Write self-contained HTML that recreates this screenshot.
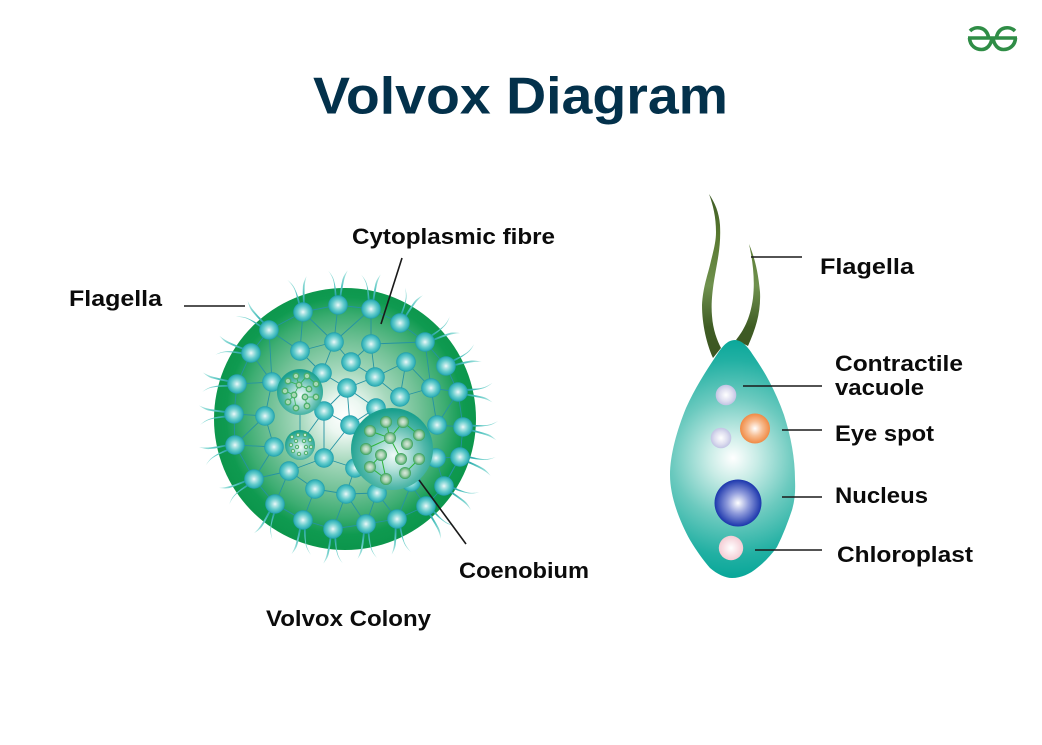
<!DOCTYPE html>
<html><head><meta charset="utf-8"><style>html,body{margin:0;padding:0;background:#fff}svg{display:block}text{font-family:"Liberation Sans",sans-serif;font-weight:700;fill:#0b0b0b}</style></head><body>
<svg width="1042" height="745" viewBox="0 0 1042 745" xmlns="http://www.w3.org/2000/svg">
<defs>
<radialGradient id="big" gradientUnits="userSpaceOnUse" cx="345" cy="416" r="132"><stop offset="0" stop-color="#fff"/><stop offset=".14" stop-color="#ecf7f1"/><stop offset=".34" stop-color="#a8d9be"/><stop offset=".56" stop-color="#74c298"/><stop offset=".76" stop-color="#3dad72"/><stop offset=".9" stop-color="#0f9a50"/><stop offset="1" stop-color="#0c964c"/></radialGradient>
<radialGradient id="nd"><stop offset="0" stop-color="#eefafa"/><stop offset=".22" stop-color="#b4e6e6"/><stop offset=".58" stop-color="#62cbcb"/><stop offset=".86" stop-color="#36b3ba"/><stop offset="1" stop-color="#1e9aa8"/></radialGradient>
<radialGradient id="co" cx=".52" cy=".58" r=".55"><stop offset="0" stop-color="#f0faf8"/><stop offset=".3" stop-color="#b8e3dc"/><stop offset=".7" stop-color="#52b8aa"/><stop offset="1" stop-color="#1aa08e"/></radialGradient>
<radialGradient id="sp"><stop offset="0" stop-color="#dcecde"/><stop offset=".5" stop-color="#a8d0b2"/><stop offset=".78" stop-color="#6cb880"/><stop offset="1" stop-color="#369f58"/></radialGradient>
<radialGradient id="cell" gradientUnits="userSpaceOnUse" cx="733" cy="458" r="122"><stop offset="0" stop-color="#fff"/><stop offset=".2" stop-color="#c8ece6"/><stop offset=".5" stop-color="#6ccabf"/><stop offset=".8" stop-color="#22b0a3"/><stop offset="1" stop-color="#06a698"/></radialGradient>
<radialGradient id="vac"><stop offset="0" stop-color="#fff"/><stop offset=".6" stop-color="#dfdff0"/><stop offset="1" stop-color="#c2c4e4"/></radialGradient>
<radialGradient id="eye"><stop offset="0" stop-color="#fff"/><stop offset=".5" stop-color="#f7bd92"/><stop offset="1" stop-color="#f08a44"/></radialGradient>
<radialGradient id="nuc"><stop offset="0" stop-color="#fff"/><stop offset=".45" stop-color="#909cdc"/><stop offset="1" stop-color="#1b36ac"/></radialGradient>
<radialGradient id="chl"><stop offset="0" stop-color="#fff"/><stop offset="1" stop-color="#f4ccd4"/></radialGradient>
<linearGradient id="fl" gradientUnits="userSpaceOnUse" x1="5" y1="0" x2="36" y2="0"><stop offset="0" stop-color="#14969c"/><stop offset=".45" stop-color="#58c6c2"/><stop offset="1" stop-color="#c0ecE8"/></linearGradient>
<linearGradient id="gf" gradientUnits="userSpaceOnUse" x1="0" y1="195" x2="0" y2="360"><stop offset="0" stop-color="#3f5c26"/><stop offset=".25" stop-color="#58782f"/><stop offset=".55" stop-color="#6f914e"/><stop offset=".8" stop-color="#3f5c24"/><stop offset="1" stop-color="#3c5522"/></linearGradient>
<g id="f"><path d="M6,-3.200C14,-4.200 20,-3.800 26,-6.200C29,-7.500 31,-8.800 34,-11C31,-8 28,-6 25,-5C19,-3 13,-2 6,-1.400Z" fill="url(#fl)"/><path d="M6,1C13,1.600 19,2.200 25,3.400C28,4 31,5.500 35,8.500C31,6.800 28,5.700 24,5C18,4 13,3.400 6,2.800Z" fill="url(#fl)"/></g>
<circle id="n" r="9.800" fill="url(#nd)"/>
<circle id="s" r="6" fill="url(#sp)"/>
</defs>

<!-- Logo -->
<g fill="none" stroke="#2f8d46" stroke-width="3.600">
<path d="M970 31C975 26 986 26 988.500 37"/>
<path d="M969.500 38C970 46 976 49.500 981.500 49.500C987 49.500 991 45 992 38"/>
<path d="M1015 31C1010 26 999 26 996.500 37"/>
<path d="M1015.500 38C1015 46 1009 49.500 1003.500 49.500C998 49.500 994 45 993 38"/>
<path d="M968 38H1017"/>
</g>

<text x="313" y="113.500" font-size="52" textLength="415" lengthAdjust="spacingAndGlyphs" style="fill:#03314b">Volvox Diagram</text>

<circle cx="345" cy="419" r="131" fill="url(#big)"/>

<!-- network -->
<g fill="none" stroke="#2593a3" stroke-width=".9">
<path d="M303 312L338 305L371 309L400 323L425 342L446 366L458 392L463 427L460 457L444 486L426 506L397 519L366 524L333 529L303 520L275 504L254 479L235 445L234 414L237 384L251 353L269 330Z"/>
<path d="M303 312L300 351M269 330L300 351M338 305L334 342M303 312L334 342M371 309L371 344M371 309L334 342M300 351L334 342M334 342L322 373M334 342L351 362M371 344L351 362M371 344L425 342M371 344L375 377M351 362L375 377M375 377L406 362M406 362L400 397M375 377L400 397M375 377L347 388M400 397L431 388M406 362L431 388M425 342L431 388M431 388L458 392M431 388L437 425M458 392L437 425M437 425L463 427M436 458L460 457M444 486L436 458M460 457L444 486M411 485L426 506M411 485L397 519M300 351L322 373"/>
<path d="M269 330L272 382M251 353L272 382M237 384L272 382M272 382L265 416M234 414L265 416M235 445L265 416M265 416L274 447M235 445L274 447M274 447L254 479M254 479L289 471M289 471L275 504M289 471L315 489M315 489L303 520M315 489L346 494M289 471L324 458M346 494L377 493M346 494L333 529M346 494L366 524M377 493L366 524M377 493L397 519M324 411L347 388M324 411L350 425M350 425L376 408M347 388L350 425M347 388L376 408M324 411L300 444M324 411L324 458M350 425L324 458M324 458L355 468M346 494L355 468M275 504L303 520M272 382L300 392M300 392L300 444M322 373L347 388"/>
</g>

<!-- Colony flagella -->
<g>
<use href="#f" transform="translate(303,312) rotate(-98)"/><use href="#f" transform="translate(338,305) rotate(-88)"/><use href="#f" transform="translate(371,309) rotate(-88)"/><use href="#f" transform="translate(400,323) rotate(-64)"/><use href="#f" transform="translate(425,342) rotate(-28)"/><use href="#f" transform="translate(446,366) rotate(-20)"/><use href="#f" transform="translate(458,392) rotate(3)"/><use href="#f" transform="translate(463,427) rotate(8)"/><use href="#f" transform="translate(460,457) rotate(18)"/><use href="#f" transform="translate(444,486) rotate(28)"/><use href="#f" transform="translate(426,506) rotate(52)"/><use href="#f" transform="translate(397,519) rotate(85)"/><use href="#f" transform="translate(366,524) rotate(90)"/><use href="#f" transform="translate(333,529) rotate(92)"/><use href="#f" transform="translate(303,520) rotate(95)"/><use href="#f" transform="translate(275,504) rotate(112)"/><use href="#f" transform="translate(254,479) rotate(152)"/><use href="#f" transform="translate(235,445) rotate(163)"/><use href="#f" transform="translate(234,414) rotate(180)"/><use href="#f" transform="translate(237,384) rotate(185)"/><use href="#f" transform="translate(251,353) rotate(195)"/><use href="#f" transform="translate(269,330) rotate(220)"/>
</g>

<!-- nodes -->
<g>
<use href="#n" x="303" y="312"/><use href="#n" x="338" y="305"/><use href="#n" x="371" y="309"/><use href="#n" x="400" y="323"/><use href="#n" x="425" y="342"/><use href="#n" x="446" y="366"/><use href="#n" x="458" y="392"/><use href="#n" x="463" y="427"/><use href="#n" x="460" y="457"/><use href="#n" x="444" y="486"/><use href="#n" x="426" y="506"/><use href="#n" x="397" y="519"/><use href="#n" x="366" y="524"/><use href="#n" x="333" y="529"/><use href="#n" x="303" y="520"/><use href="#n" x="275" y="504"/><use href="#n" x="254" y="479"/><use href="#n" x="235" y="445"/><use href="#n" x="234" y="414"/><use href="#n" x="237" y="384"/><use href="#n" x="251" y="353"/><use href="#n" x="269" y="330"/>
<use href="#n" x="334" y="342"/><use href="#n" x="300" y="351"/><use href="#n" x="371" y="344"/><use href="#n" x="351" y="362"/><use href="#n" x="406" y="362"/><use href="#n" x="375" y="377"/><use href="#n" x="347" y="388"/><use href="#n" x="400" y="397"/><use href="#n" x="431" y="388"/><use href="#n" x="322" y="373"/><use href="#n" x="272" y="382"/><use href="#n" x="265" y="416"/><use href="#n" x="324" y="411"/><use href="#n" x="376" y="408"/><use href="#n" x="350" y="425"/><use href="#n" x="437" y="425"/><use href="#n" x="436" y="458"/><use href="#n" x="274" y="447"/><use href="#n" x="324" y="458"/><use href="#n" x="355" y="468"/><use href="#n" x="289" y="471"/><use href="#n" x="315" y="489"/><use href="#n" x="346" y="494"/><use href="#n" x="377" y="493"/><use href="#n" x="411" y="482"/>
</g>

<!-- medium coenobium -->
<circle cx="300" cy="392" r="23" fill="url(#co)"/>
<path d="M288 381L299 385L296 376M299 385L307 376M307 376L316 384M299 385L309 389M285 391L294 395L288 402M294 395L296 408M294 395L299 385M305 397L316 397M305 397L307 406" fill="none" stroke="#2fb24a" stroke-width=".8"/>
<g fill="#a8d8b4" stroke="#4caf6c" stroke-width="1.300">
<circle cx="288" cy="381" r="2.800"/><circle cx="296" cy="376" r="2.800"/><circle cx="307" cy="376" r="2.800"/><circle cx="316" cy="384" r="2.800"/><circle cx="299" cy="385" r="2.800"/><circle cx="309" cy="389" r="2.800"/><circle cx="285" cy="391" r="2.800"/><circle cx="294" cy="395" r="2.800"/><circle cx="305" cy="397" r="2.800"/><circle cx="316" cy="397" r="2.800"/><circle cx="288" cy="402" r="2.800"/><circle cx="296" cy="408" r="2.800"/><circle cx="307" cy="406" r="2.800"/>
</g>

<!-- small coenobium -->
<circle cx="300" cy="445" r="15" fill="url(#co)"/>
<g fill="#c8e8d0" stroke="#4caf6c" stroke-width="1">
<circle cx="292" cy="437" r="1.700"/><circle cx="298" cy="435" r="1.700"/><circle cx="305" cy="435" r="1.700"/><circle cx="310" cy="440" r="1.700"/><circle cx="296" cy="441" r="1.700"/><circle cx="304" cy="441" r="1.700"/><circle cx="291" cy="445" r="1.700"/><circle cx="297" cy="447" r="1.700"/><circle cx="306" cy="447" r="1.700"/><circle cx="311" cy="447" r="1.700"/><circle cx="293" cy="451" r="1.700"/><circle cx="299" cy="454" r="1.700"/><circle cx="306" cy="453" r="1.700"/>
</g>

<!-- large coenobium -->
<circle cx="392" cy="449" r="41" fill="url(#co)"/>
<path d="M370 431L390 438L386 422M390 438L403 422M403 422L419 435M366 449L390 438M390 438L401 459M381 455L370 467L386 479M381 455L386 479M405 473L419 459" fill="none" stroke="#2fb53a" stroke-width="1"/>
<g>
<use href="#s" x="386" y="422"/><use href="#s" x="403" y="422"/><use href="#s" x="370" y="431"/><use href="#s" x="419" y="435"/><use href="#s" x="390" y="438"/><use href="#s" x="407" y="444"/><use href="#s" x="366" y="449"/><use href="#s" x="381" y="455"/><use href="#s" x="401" y="459"/><use href="#s" x="419" y="459"/><use href="#s" x="370" y="467"/><use href="#s" x="386" y="479"/><use href="#s" x="405" y="473"/>
</g>

<!-- Cell flagella -->
<path d="M709 194C715 203 719 212 720 225C721 245 718 258 715 275C712 292 711 305 712 316C713 330 717 340 721 348L713 358C707 345 702 325 702 305C703 288 707 277 710 265C713 252 716 243 716 232C716 217 713 205 709 194Z" fill="url(#gf)"/>
<path d="M749 244C754 256 758 270 760 292C761 312 756 328 748 346L736 340C743 331 750 320 753 298C755 280 753 262 749 244Z" fill="url(#gf)"/>

<!-- Cell -->
<path d="M735 340C727 340 722 347 716 356C706 371 695 388 686 408C677 430 670 455 670 475C670 497 680 522 690 540C696 550 703 560 710 568C717 574 725 578 732 578C741 578 750 574 757 568C765 562 771 555 777 547C783 535 788 522 792 510C795 500 795.500 490 795 480C795 458 791 437 784 415C776 392 765 372 753 355C748 347 742 340 735 340Z" fill="url(#cell)"/>

<circle cx="726" cy="395" r="10.300" fill="url(#vac)"/>
<circle cx="721" cy="438" r="10.300" fill="url(#vac)"/>
<circle cx="755" cy="428.500" r="15" fill="url(#eye)"/>
<circle cx="738" cy="503" r="23.500" fill="url(#nuc)"/>
<circle cx="731" cy="548" r="12.200" fill="url(#chl)"/>

<!-- Leaders -->
<g stroke="#1a1a1a" stroke-width="1.600" fill="none">
<path d="M184 306H245"/><path d="M402 258L381 324"/><path d="M419 480L466 544"/>
<path d="M751 257H802"/><path d="M743 386H822"/><path d="M782 430H822"/><path d="M782 497H822"/><path d="M755 550H822"/>
</g>

<!-- Labels -->
<g font-size="22.500">
<text x="69" y="306" textLength="93" lengthAdjust="spacingAndGlyphs">Flagella</text>
<text x="352" y="244" textLength="203" lengthAdjust="spacingAndGlyphs">Cytoplasmic fibre</text>
<text x="459" y="578" textLength="130" lengthAdjust="spacingAndGlyphs">Coenobium</text>
<text x="266" y="626" textLength="165" lengthAdjust="spacingAndGlyphs">Volvox Colony</text>
<text x="820" y="274" textLength="94" lengthAdjust="spacingAndGlyphs">Flagella</text>
<text x="835" y="371" textLength="128" lengthAdjust="spacingAndGlyphs">Contractile</text>
<text x="835" y="395" textLength="89" lengthAdjust="spacingAndGlyphs">vacuole</text>
<text x="835" y="441" textLength="99" lengthAdjust="spacingAndGlyphs">Eye spot</text>
<text x="835" y="503" textLength="93" lengthAdjust="spacingAndGlyphs">Nucleus</text>
<text x="837" y="562" textLength="136" lengthAdjust="spacingAndGlyphs">Chloroplast</text>
</g>
</svg>
</body></html>
